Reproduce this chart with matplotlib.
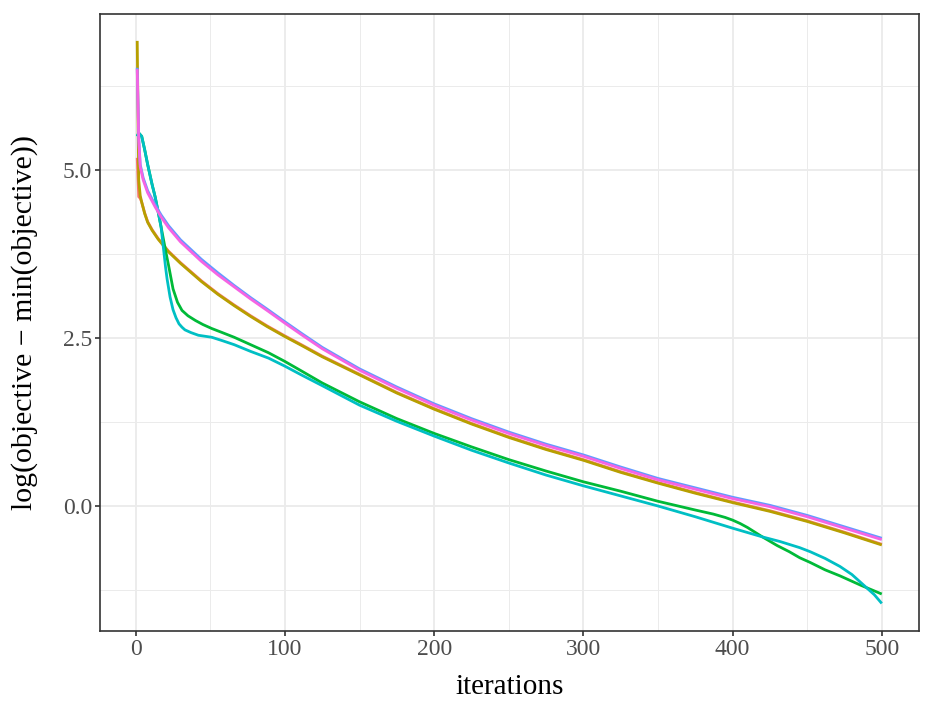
import matplotlib
matplotlib.use("Agg")
import matplotlib.pyplot as plt
from matplotlib.ticker import MultipleLocator

# ---- data ----
it_red = [1, 2, 3, 4, 6, 8, 11, 15, 22, 30, 44, 55, 66, 77, 88, 100, 111, 125, 150, 175, 200, 225, 250, 275,
          300, 325, 350, 375, 400, 425, 450, 475, 500]
v_red = [5.18, 4.60, 4.58, 4.52, 4.36, 4.23, 4.11, 3.98, 3.79, 3.62, 3.35, 3.16, 2.99, 2.83, 2.68, 2.53, 2.40,
         2.23, 1.96, 1.69, 1.45, 1.23, 1.03, 0.85, 0.69, 0.51, 0.35, 0.20, 0.06, -0.07, -0.22, -0.39, -0.57]

it_gold = [1, 2, 3, 4, 6, 8, 11, 15, 22, 30, 44, 55, 66, 77, 88, 100, 111, 125, 150, 175, 200, 225, 250, 275,
           300, 325, 350, 375, 400, 425, 450, 475, 500]
v_gold = [6.92, 4.85, 4.62, 4.52, 4.35, 4.22, 4.10, 3.97, 3.78, 3.61, 3.34, 3.15, 2.98, 2.82, 2.67, 2.52, 2.39,
          2.22, 1.95, 1.68, 1.44, 1.22, 1.02, 0.84, 0.68, 0.50, 0.34, 0.19, 0.05, -0.08, -0.23, -0.40, -0.58]

it_green = [1, 2, 4, 6, 8, 11, 13, 15, 17, 20, 22, 25, 28, 31, 35, 40, 45, 51, 58, 66, 77, 89, 100, 111, 125,
            150, 175, 200, 225, 250, 275, 300, 325, 350, 375, 387, 395, 400, 405, 410, 415, 420, 430, 438, 445,
            452, 462, 472, 486, 500]
v_green = [5.5, 5.55, 5.5, 5.3, 5.08, 4.78, 4.6, 4.38, 4.15, 3.80, 3.58, 3.23, 3.03, 2.91, 2.83, 2.76, 2.70,
           2.64, 2.58, 2.51, 2.40, 2.28, 2.15, 2.01, 1.83, 1.55, 1.30, 1.08, 0.88, 0.69, 0.52, 0.36, 0.22, 0.07,
           -0.06, -0.12, -0.17, -0.21, -0.26, -0.32, -0.39, -0.46, -0.59, -0.68, -0.77, -0.84, -0.95, -1.04,
           -1.18, -1.31]

it_cyan = [1, 2, 4, 6, 8, 11, 13, 15, 17, 18, 20, 21, 23, 25, 27, 29, 31, 33, 37, 42, 51, 58, 66, 77, 89, 100,
           111, 125, 150, 175, 200, 225, 250, 275, 300, 325, 350, 375, 400, 420, 432, 445, 452, 462, 472, 480,
           489, 495, 500]
v_cyan = [5.5, 5.55, 5.5, 5.3, 5.08, 4.78, 4.6, 4.38, 4.15, 3.95, 3.55, 3.38, 3.11, 2.92, 2.80, 2.71, 2.66,
          2.62, 2.58, 2.54, 2.51, 2.46, 2.40, 2.30, 2.20, 2.08, 1.95, 1.79, 1.50, 1.26, 1.04, 0.83, 0.64, 0.46,
          0.30, 0.15, 0.00, -0.16, -0.33, -0.46, -0.53, -0.62, -0.68, -0.78, -0.90, -1.02, -1.20, -1.32, -1.45]

it_blue = [1, 2, 3, 5, 8, 13, 17, 22, 30, 44, 55, 66, 77, 88, 100, 111, 125, 150, 175, 200, 225, 250, 275, 300,
           325, 350, 375, 400, 425, 450, 475, 500]
v_blue = [6.52, 5.48, 5.08, 4.88, 4.69, 4.48, 4.33, 4.17, 3.96, 3.67, 3.47, 3.28, 3.10, 2.93, 2.74, 2.57, 2.36,
          2.04, 1.77, 1.52, 1.30, 1.10, 0.92, 0.76, 0.58, 0.41, 0.27, 0.13, 0.01, -0.14, -0.31, -0.48]

it_mag = [1, 2, 3, 5, 8, 13, 17, 22, 30, 44, 55, 66, 77, 88, 100, 111, 125, 150, 175, 200, 225, 250, 275, 300,
          325, 350, 375, 400, 425, 450, 475, 500]
v_mag = [6.50, 5.45, 5.05, 4.85, 4.66, 4.45, 4.30, 4.14, 3.93, 3.64, 3.44, 3.26, 3.08, 2.91, 2.72, 2.55, 2.34,
         2.02, 1.75, 1.50, 1.28, 1.08, 0.90, 0.74, 0.56, 0.39, 0.25, 0.11, -0.01, -0.16, -0.33, -0.50]

series = [
    (it_red, v_red, "#F8766D"),
    (it_gold, v_gold, "#B79F00"),
    (it_green, v_green, "#00BA38"),
    (it_cyan, v_cyan, "#00BFC4"),
    (it_blue, v_blue, "#619CFF"),
    (it_mag, v_mag, "#F564E3"),
]

x_ticks = [0, 100, 200, 300, 400, 500]
y_ticks = [0.0, 2.5, 5.0]

plt.rcParams["font.family"] = ["Liberation Serif", "DejaVu Serif"]

fig = plt.figure(figsize=(9.34, 7.09), dpi=100)
ax = fig.add_axes([100 / 934, (709 - 631) / 709, 819 / 934, 617 / 709])

for xs, ys, c in series:
    ax.plot(xs, ys, color=c, lw=2.0, solid_joinstyle="round", solid_capstyle="butt")

ax.set_xlim(-23.95, 524.95)
ax.set_ylim(-1.86, 7.32)

ax.set_xticks(x_ticks)
ax.set_xticklabels([str(t) for t in x_ticks])
ax.set_yticks(y_ticks)
ax.set_yticklabels([f"{t:.1f}" for t in y_ticks])
ax.xaxis.set_minor_locator(MultipleLocator(50))
ax.yaxis.set_minor_locator(MultipleLocator(1.25))

ax.grid(which="major", color="#EBEBEB", lw=1.3)
ax.grid(which="minor", color="#EBEBEB", lw=0.7)
ax.set_axisbelow(True)

for s in ax.spines.values():
    s.set_color("#333333")
    s.set_linewidth(1.2)

ax.tick_params(which="major", length=3.6, width=1.2, color="#333333", labelcolor="#4D4D4D",
               labelsize=17, pad=2.0)
ax.tick_params(which="minor", length=0)

ax.set_xlabel("iterations", fontsize=21, color="black", va="baseline")
ax.xaxis.set_label_coords(0.5, (631 - 694) / 617)
ax.set_ylabel("log(objective \u2212 min(objective))", fontsize=21.5, color="black", va="center")
ax.yaxis.set_label_coords((25 - 100) / 819, 0.5)

fig.savefig("out.png", dpi=100)
